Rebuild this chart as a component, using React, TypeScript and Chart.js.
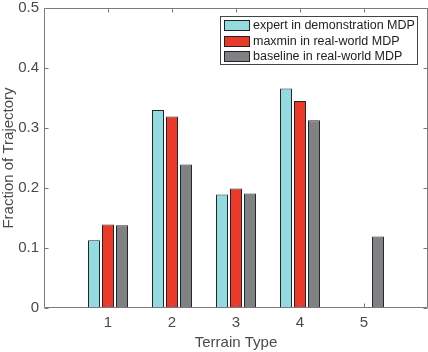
import React, { useEffect, useRef } from 'react';
import { Chart, registerables } from 'chart.js';

Chart.register(...registerables);

const categories = ['1', '2', '3', '4', '5'];
const seriesNames = ['expert in demonstration MDP', 'maxmin in real-world MDP', 'baseline in real-world MDP'];
const expertValues = [0.113, 0.330, 0.189, 0.366, 0];
const maxminValues = [0.139, 0.319, 0.199, 0.345, 0];
const baselineValues = [0.138, 0.239, 0.191, 0.313, 0.119];
const seriesColors = ['#93dbe0', '#e8392a', '#808184'];
const yTicks = [0, 0.1, 0.2, 0.3, 0.4, 0.5];

const FONT = '"Liberation Sans", Arial, Helvetica, sans-serif';
const AXIS_COLOR = '#7a7a7a';
const TEXT_COLOR = '#4a4a4a';

const boxPlugin = {
  id: 'matlabBox',
  afterDatasetsDraw(chart: any) {
    const { ctx, chartArea: a, scales } = chart;
    const xs = scales.x;
    const ys = scales.y;
    const L = Math.round(a.left) + 0.5;
    const R = Math.round(a.right) - 0.5;
    const T = Math.round(a.top) + 0.5;
    const B = Math.round(a.bottom) - 0.5;
    ctx.save();
    ctx.strokeStyle = AXIS_COLOR;
    ctx.lineWidth = 1;
    ctx.beginPath();
    ctx.rect(L, T, R - L, B - T);
    yTicks.forEach((v) => {
      const py = Math.round(ys.getPixelForValue(v)) + 0.5;
      ctx.moveTo(L, py);
      ctx.lineTo(L + 4, py);
      ctx.moveTo(R, py);
      ctx.lineTo(R - 4, py);
    });
    categories.forEach((_c, i) => {
      const px = Math.round(xs.getPixelForValue(i + 1)) + 0.5;
      ctx.moveTo(px, B);
      ctx.lineTo(px, B - 4);
      ctx.moveTo(px, T);
      ctx.lineTo(px, T + 4);
    });
    ctx.stroke();
    ctx.restore();
  },
};

const legendPlugin = {
  id: 'insideLegend',
  afterDraw(chart: any) {
    const { ctx, chartArea: a } = chart;
    const datasets = chart.data.datasets;
    ctx.save();
    ctx.font = `12.5px ${FONT}`;
    let maxW = 0;
    datasets.forEach((d: any) => {
      maxW = Math.max(maxW, ctx.measureText(d.label).width);
    });
    const padL = 4;
    const swW = 26;
    const swH = 11;
    const gap = 3;
    const padR = 3;
    const rowH = 15.5;
    const boxW = Math.round(padL + swW + gap + maxW + padR);
    const boxH = 49;
    const right = Math.round(a.right) - 10;
    const top = Math.round(a.top) + 8;
    const left = right - boxW;
    ctx.fillStyle = '#ffffff';
    ctx.fillRect(left, top, boxW, boxH);
    ctx.strokeStyle = '#444444';
    ctx.lineWidth = 1;
    ctx.strokeRect(left + 0.5, top + 0.5, boxW - 1, boxH - 1);
    datasets.forEach((d: any, i: number) => {
      const cy = top + 9.5 + i * rowH;
      const sx = left + padL;
      const sy = Math.round(cy - swH / 2);
      ctx.fillStyle = d.backgroundColor;
      ctx.fillRect(sx, sy, swW, swH);
      ctx.strokeStyle = '#222222';
      ctx.strokeRect(sx + 0.5, sy + 0.5, swW - 1, swH - 1);
      ctx.fillStyle = '#222222';
      ctx.textBaseline = 'middle';
      ctx.textAlign = 'left';
      ctx.fillText(d.label, sx + swW + gap, cy + 0.5);
    });
    ctx.restore();
  },
};

function zeroPadding(scale: any) {
  scale.paddingTop = 0;
  scale.paddingBottom = 0;
  scale.paddingLeft = 0;
  scale.paddingRight = 0;
}

export default function App() {
  const canvasRef = useRef<HTMLCanvasElement | null>(null);

  useEffect(() => {
    const canvas = canvasRef.current;
    if (!canvas) return;
    const labels = ['', ...categories, ''];
    const pad = (vals: number[]) => [null, ...vals, null];
    const allValues = [expertValues, maxminValues, baselineValues];
    const chart = new Chart(canvas, {
      type: 'bar',
      data: {
        labels,
        datasets: allValues.map((vals, i) => ({
          label: seriesNames[i],
          data: pad(vals),
          backgroundColor: seriesColors[i],
          borderColor: '#262626',
          borderWidth: 1,
          borderSkipped: false,
          categoryPercentage: 0.656,
          barPercentage: 0.857,
        })),
      },
      options: {
        responsive: false,
        animation: false,
        devicePixelRatio: 1,
        layout: { padding: { top: 8, right: 0, left: 0, bottom: 0 } },
        plugins: {
          legend: { display: false },
          tooltip: { enabled: false },
          title: { display: false },
        },
        scales: {
          x: {
            type: 'category',
            offset: false,
            grid: { display: false, drawTicks: false },
            border: { display: false },
            ticks: {
              font: { family: FONT, size: 15 },
              color: TEXT_COLOR,
              padding: 6,
              autoSkip: false,
              maxRotation: 0,
            },
            title: {
              display: true,
              text: 'Terrain Type',
              font: { family: FONT, size: 15 },
              color: TEXT_COLOR,
              padding: 0,
            },
            afterFit(scale: any) {
              scale.height = 44;
              zeroPadding(scale);
            },
          },
          y: {
            min: 0,
            max: 0.5,
            grid: { display: false, drawTicks: false },
            border: { display: false },
            ticks: {
              stepSize: 0.1,
              font: { family: FONT, size: 15 },
              color: TEXT_COLOR,
              padding: 5,
            },
            title: {
              display: true,
              text: 'Fraction of Trajectory',
              font: { family: FONT, size: 15 },
              color: TEXT_COLOR,
              padding: 0,
            },
            afterFit(scale: any) {
              scale.width = 44;
              zeroPadding(scale);
            },
          },
        },
      },
      plugins: [boxPlugin, legendPlugin],
    } as any);
    return () => chart.destroy();
  }, []);

  return (
    <div style={{ position: 'fixed', left: 0, top: 0, width: 428, height: 352, background: '#fff' }}>
      <canvas ref={canvasRef} width={428} height={352} style={{ display: 'block' }} />
    </div>
  );
}
